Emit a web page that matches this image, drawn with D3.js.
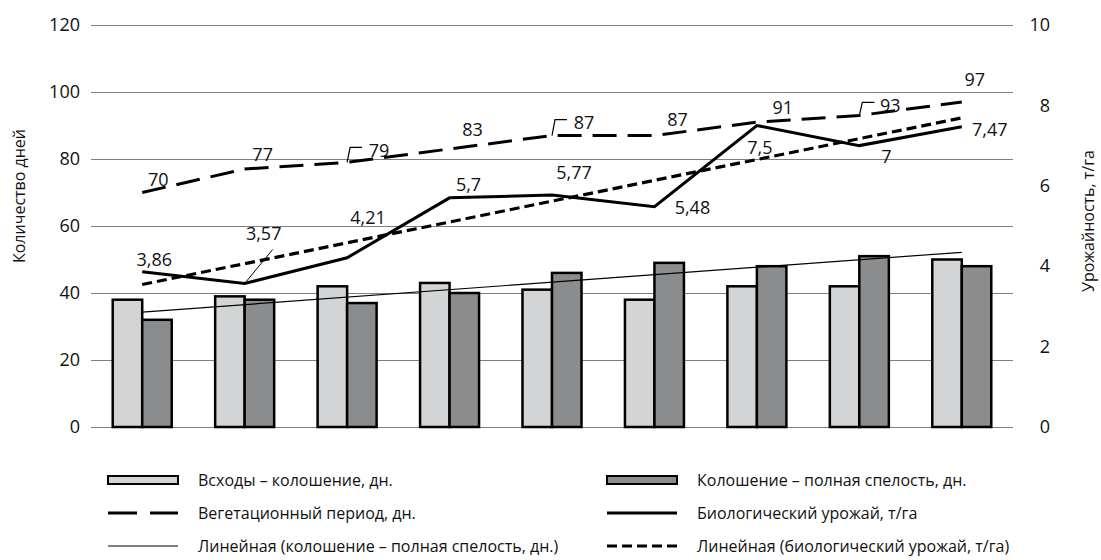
<!DOCTYPE html>
<html>
<head>
<meta charset="utf-8">
<script src="https://cdn.jsdelivr.net/npm/d3@7"></script>
<style>
  body { margin: 0; background: #fff; }
  svg text { font-family: "Open Sans", "Noto Sans", sans-serif; fill: #111; }
</style>
</head>
<body>
<div id="chart"></div>
<script>
// data
const categories = ['1', '2', '3', '4', '5', '6', '7', '8', '9'];
const sprouting = [38, 39, 42, 43, 41, 38, 42, 42, 50];      // Всходы – колошение, дн.
const ripening = [32, 38, 37, 40, 46, 49, 48, 51, 48];       // Колошение – полная спелость, дн.
const vegetation = [70, 77, 79, 83, 87, 87, 91, 93, 97];     // Вегетационный период, дн.
const yieldBio = [3.86, 3.57, 4.21, 5.7, 5.77, 5.48, 7.5, 7, 7.47]; // т/га
const leftTicks = [0, 20, 40, 60, 80, 100, 120];
const rightTicks = [0, 2, 4, 6, 8, 10];

// label placement (offsets from the point)
const vegLabelOffset = [[16, -13], [18, -14], [32, -12], [23, -19], [32, -13], [23, -16], [26, -14], [31, -10], [13, -22]];
const vegLeader = [false, false, true, false, true, false, false, true, false];
const yieldLabelOffset = [[12, -12], [19, -50], [21, -40], [19, -13], [22, -22], [38, 1], [3, 22], [27, 11], [28, 3]];
const yieldLeader = [false, true, false, false, false, false, false, false, false];

const W = 1101, H = 560;
const margin = { top: 25, right: 88, bottom: 133, left: 91 };

const svg = d3.select('#chart').append('svg')
    .attr('width', W)
    .attr('height', H);

const x = d3.scaleBand()
    .domain(categories)
    .range([margin.left, W - margin.right])
    .padding(0);
const bw = x.bandwidth();
const cx = d => x(d) + bw / 2;
const barW = 29.5;

const yL = d3.scaleLinear().domain([0, 120]).range([H - margin.bottom, margin.top]);
const yR = d3.scaleLinear().domain([0, 10]).range([H - margin.bottom, margin.top]);

// gridlines
svg.append('g')
    .selectAll('line')
    .data(leftTicks)
    .join('line')
    .attr('x1', margin.left)
    .attr('x2', W - margin.right)
    .attr('y1', d => Math.round(yL(d)) + 0.5)
    .attr('y2', d => Math.round(yL(d)) + 0.5)
    .attr('stroke', '#7f7f7f')
    .attr('stroke-width', 1);

// axes (labels only)
const leftAxis = svg.append('g')
    .attr('transform', `translate(${margin.left - 11},0)`)
    .call(d3.axisLeft(yL).tickValues(leftTicks).tickSize(0).tickPadding(0));
const rightAxis = svg.append('g')
    .attr('transform', `translate(${W - margin.right + 37},0)`)
    .call(d3.axisLeft(yR).tickValues(rightTicks).tickSize(0).tickPadding(0));
[leftAxis, rightAxis].forEach(a => {
    a.select('.domain').remove();
    a.selectAll('text').attr('font-size', 18).attr('font-family', null);
});

svg.append('text')
    .attr('transform', 'translate(25,196) rotate(-90)')
    .attr('text-anchor', 'middle')
    .attr('font-size', 16)
    .text('Количество дней');
svg.append('text')
    .attr('transform', 'translate(1094,221) rotate(-90)')
    .attr('text-anchor', 'middle')
    .attr('font-size', 16)
    .text('Урожайность, т/га');

// bars
const barColors = ['#d3d4d6', '#8b8c8e'];
const g = svg.append('g');
categories.forEach((c, i) => {
    [sprouting[i], ripening[i]].forEach((v, k) => {
        g.append('rect')
            .attr('x', cx(c) - barW + k * barW)
            .attr('y', yL(v))
            .attr('width', barW)
            .attr('height', yL(0) - yL(v))
            .attr('fill', barColors[k])
            .attr('stroke', '#000')
            .attr('stroke-width', 2.5);
    });
});

// linear trend
function trend(values) {
    const n = values.length;
    const xs = values.map((_, i) => i + 1);
    const mx = d3.mean(xs), my = d3.mean(values);
    const b = d3.sum(xs, (xi, i) => (xi - mx) * (values[i] - my)) / d3.sum(xs, xi => (xi - mx) ** 2);
    const a = my - b * mx;
    return [a + b * 1, a + b * n];
}

const ripTrend = trend(ripening);
svg.append('line')
    .attr('x1', cx(categories[0])).attr('y1', yL(ripTrend[0]))
    .attr('x2', cx(categories[8])).attr('y2', yL(ripTrend[1]))
    .attr('stroke', '#000').attr('stroke-width', 1.2);

const yTrend = trend(yieldBio);
svg.append('line')
    .attr('x1', cx(categories[0])).attr('y1', yR(yTrend[0]))
    .attr('x2', cx(categories[8])).attr('y2', yR(yTrend[1]))
    .attr('stroke', '#000').attr('stroke-width', 3.2)
    .attr('stroke-dasharray', '10,5');

// lines
const lineL = d3.line().x((d, i) => cx(categories[i])).y(d => yL(d));
const lineR = d3.line().x((d, i) => cx(categories[i])).y(d => yR(d));

svg.append('path')
    .datum(vegetation)
    .attr('d', lineL)
    .attr('fill', 'none')
    .attr('stroke', '#000')
    .attr('stroke-width', 3)
    .attr('stroke-dasharray', '24,11');

svg.append('path')
    .datum(yieldBio)
    .attr('d', lineR)
    .attr('fill', 'none')
    .attr('stroke', '#000')
    .attr('stroke-width', 3)
    .attr('stroke-linejoin', 'miter');

// data labels
const fmt = v => String(v).replace('.', ',');
function addLabels(values, scale, offsets, leaders) {
    values.forEach((v, i) => {
        const px = cx(categories[i]), py = scale(v);
        const [dx, dy] = offsets[i];
        svg.append('text')
            .attr('x', px + dx)
            .attr('y', py + dy)
            .attr('dy', '0.35em')
            .attr('text-anchor', 'middle')
            .attr('font-size', 18)
            .text(fmt(v));
        if (leaders[i]) {
            if (dy < -30) {
                svg.append('line')
                    .attr('x1', px).attr('y1', py)
                    .attr('x2', px + 28).attr('y2', py - 34)
                    .attr('stroke', '#000').attr('stroke-width', 1);
            } else {
                svg.append('path')
                    .attr('d', `M${px},${py} L${px + 3},${py + dy - 3} L${px + 15},${py + dy - 3}`)
                    .attr('fill', 'none')
                    .attr('stroke', '#000').attr('stroke-width', 1.2);
            }
        }
    });
}
addLabels(vegetation, yL, vegLabelOffset, vegLeader);
addLabels(yieldBio, yR, yieldLabelOffset, yieldLeader);

// legend
const legend = [
    { col: 0, row: 0, type: 'rect', fill: barColors[0], label: 'Всходы – колошение, дн.' },
    { col: 1, row: 0, type: 'rect', fill: barColors[1], label: 'Колошение – полная спелость, дн.' },
    { col: 0, row: 1, type: 'line', w: 3, dash: '29,13', label: 'Вегетационный период, дн.' },
    { col: 1, row: 1, type: 'line', w: 3, dash: null, label: 'Биологический урожай, т/га' },
    { col: 0, row: 2, type: 'line', w: 1.2, dash: null, label: 'Линейная (колошение – полная спелость, дн.)' },
    { col: 1, row: 2, type: 'line', w: 3.2, dash: '10,5', label: 'Линейная (биологический урожай, т/га)' }
];
const colX = [108, 607];
const rowY = [480, 513, 546];
legend.forEach(d => {
    const lx = colX[d.col], ly = rowY[d.row];
    if (d.type === 'rect') {
        svg.append('rect')
            .attr('x', lx).attr('y', ly - 4)
            .attr('width', 70).attr('height', 8)
            .attr('fill', d.fill)
            .attr('stroke', '#000').attr('stroke-width', 2);
    } else {
        svg.append('line')
            .attr('x1', lx).attr('x2', lx + 70)
            .attr('y1', ly).attr('y2', ly)
            .attr('stroke', '#000')
            .attr('stroke-width', d.w)
            .attr('stroke-dasharray', d.dash);
    }
    svg.append('text')
        .attr('x', lx + 90)
        .attr('y', ly)
        .attr('dy', '0.35em')
        .attr('font-size', 16)
        .text(d.label);
});
</script>
</body>
</html>
